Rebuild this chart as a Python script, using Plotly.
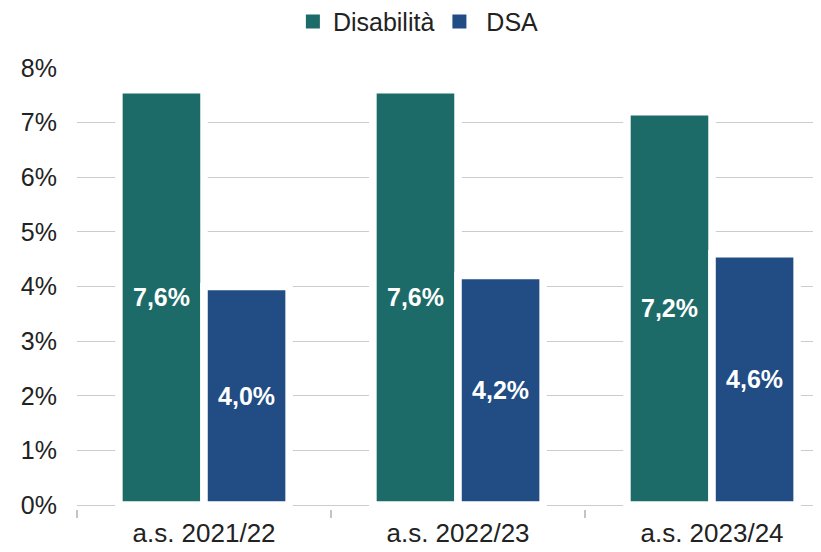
import plotly.graph_objects as go

categories = ["a.s. 2021/22", "a.s. 2022/23", "a.s. 2023/24"]
disabilita = [7.6, 7.6, 7.2]
dsa = [4.0, 4.2, 4.6]
series_names = ["Disabilità", "\u00a0DSA"]
colors = ["#1d6b68", "#214c84"]

FONT = "Liberation Sans, Arial, sans-serif"

fig = go.Figure()
for name, vals, col in zip(series_names, [disabilita, dsa], colors):
    fig.add_trace(go.Bar(
        x=categories, y=vals, name=name, showlegend=False,
        marker=dict(color=col, line=dict(color="white", width=7.5)),
        texttemplate="%{y:.1f}%", textposition="inside",
        insidetextanchor="middle", textangle=0, constraintext="none",
        textfont=dict(family=FONT, size=25, color="white", weight="bold"),
        hoverinfo="skip",
    ))
# legend entries
for name, col in zip(series_names, colors):
    fig.add_trace(go.Scatter(
        x=[None], y=[None], mode="markers", name=name, showlegend=True,
        marker=dict(symbol="square", size=14, color=col),
        hoverinfo="skip",
    ))

fig.update_layout(
    width=821, height=552,
    margin=dict(l=69, r=8, t=60, b=51),
    paper_bgcolor="white", plot_bgcolor="white",
    barmode="group", bargap=0.33, bargroupgap=0,
    separators=",.",
    font=dict(family=FONT, size=25, color="#222222"),
    showlegend=True,
    legend=dict(orientation="h", xref="container", yref="container",
                x=0.347, xanchor="left", y=0.975, yanchor="middle",
                font=dict(size=25), itemclick=False,
                bgcolor="rgba(0,0,0,0)"),
    xaxis=dict(type="category", range=[-0.5, 2.429],
               showline=False,
               ticks="outside", tickson="boundaries", ticklen=8,
               tickcolor="#c4c4c4", tickwidth=1.6,
               showgrid=False, ticklabelstandoff=6,
               tickfont=dict(size=26)),
    yaxis=dict(range=[-0.0732, 8], tick0=0, dtick=1,
               ticksuffix="%",
               showgrid=True, gridcolor="#cccccc", gridwidth=1.3,
               zeroline=False, showline=False,
               ticklabelstandoff=19, tickfont=dict(size=25)),
)

fig.write_html("out.html")
